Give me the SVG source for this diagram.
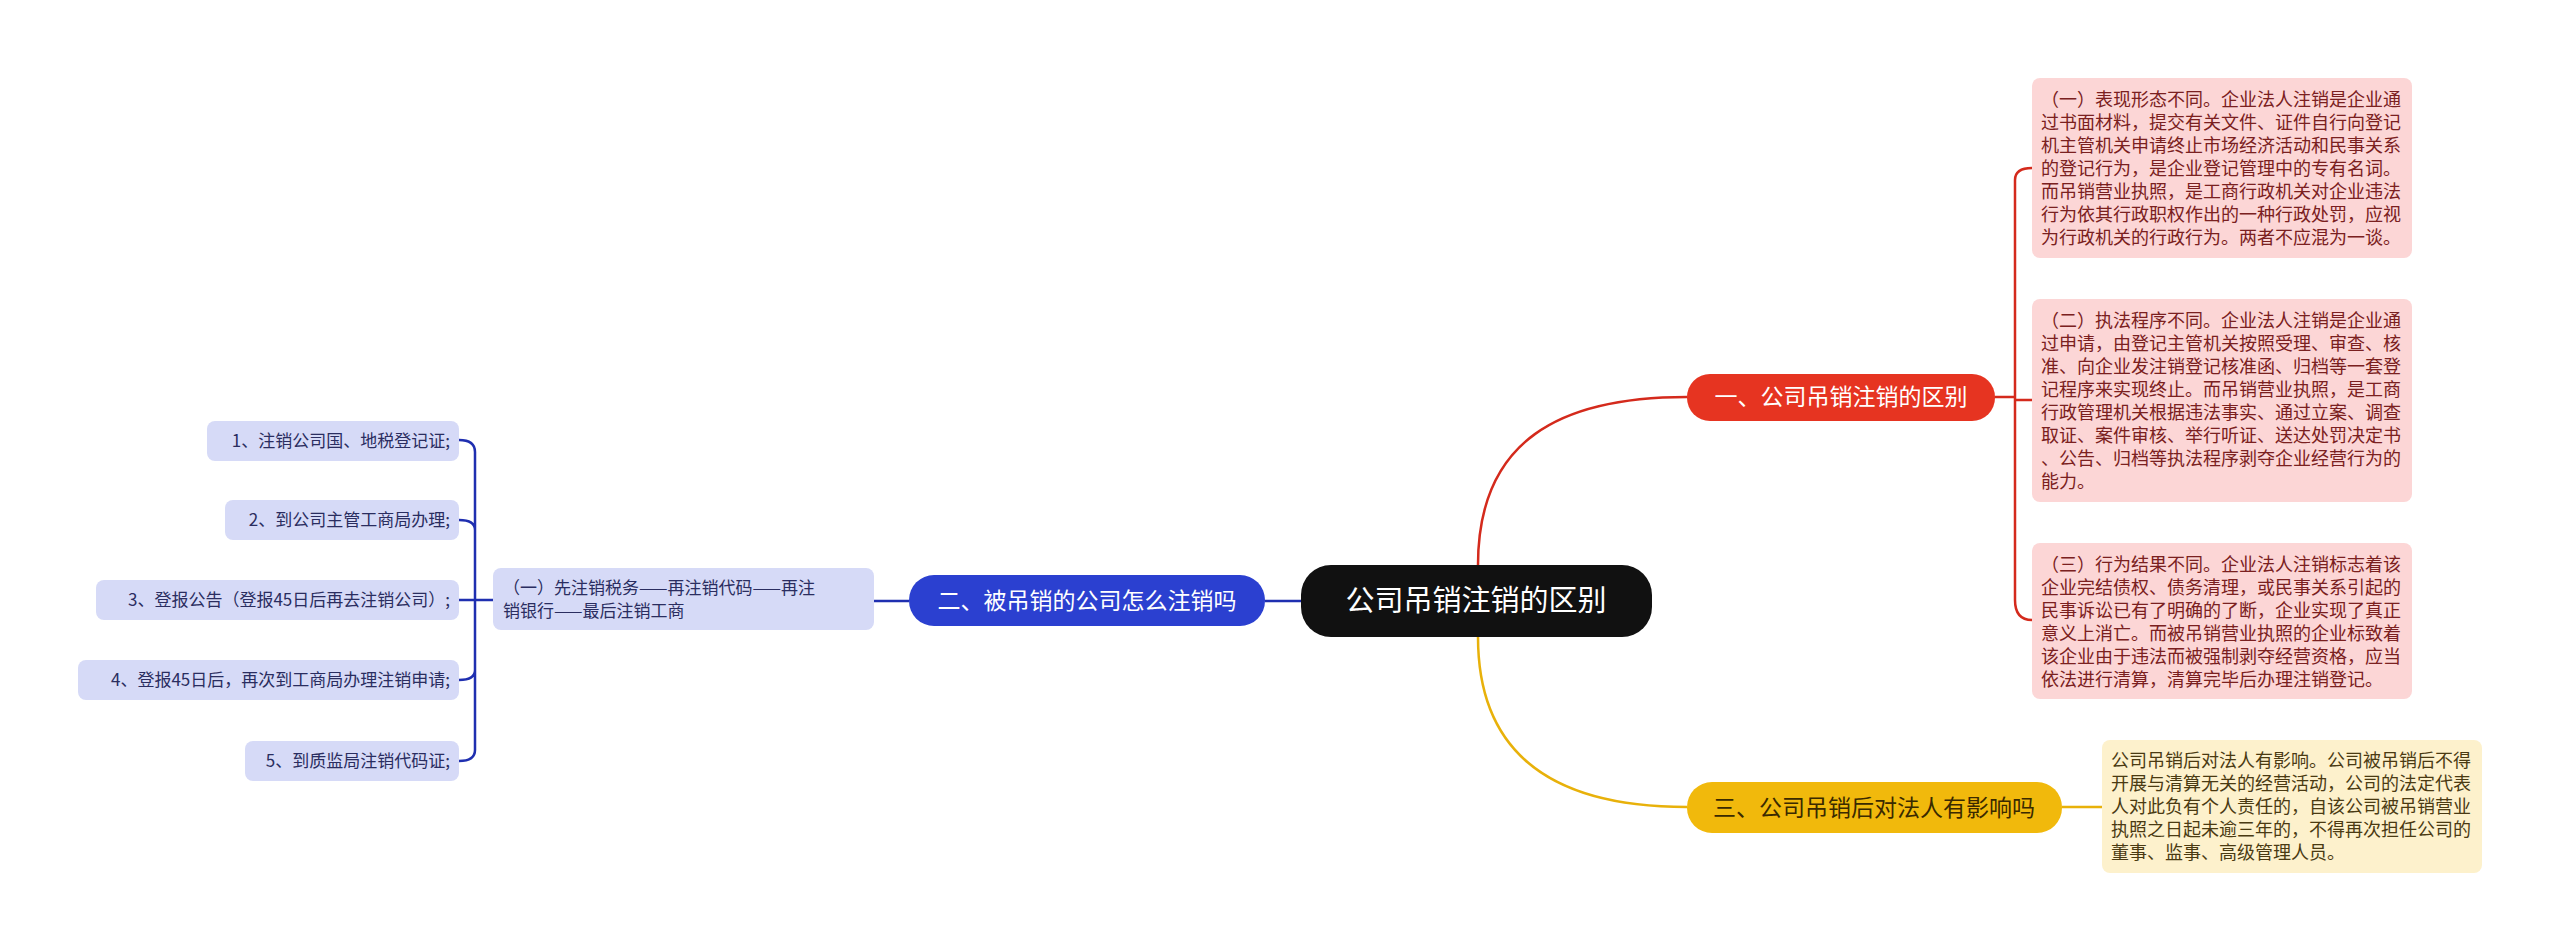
<svg xmlns="http://www.w3.org/2000/svg" width="2560" height="952" viewBox="0 0 2560 952">
<style>
text{font-family:"Noto Sans CJK SC","Liberation Sans",sans-serif}
.red{fill:#fcd6d6}.redt{fill:#7a2020;font-size:18px}
.blu{fill:#d6daf7}.blut{fill:#2a2d60;font-size:17px}
.yel{fill:#fdf1cc}.yelt{fill:#4a3a12;font-size:18px}
.c{fill:none;stroke-width:2.5}
</style>
<rect width="2560" height="952" fill="#fff"/>
<g id="connectors">
<path class="c" stroke="#d42a1c" d="M1478,565 C1478,440 1560,397 1687,397"/>
<path class="c" stroke="#d42a1c" d="M1995,397 H2015 M2015,180 V600 M2015,180 Q2015,168 2032,168 M2015,400 H2032 M2015,600 Q2015,620 2032,620"/>
<path class="c" stroke="#e8b10a" d="M1478,637 C1478,760 1560,807 1687,807"/>
<path class="c" stroke="#e8b10a" d="M2062,807 H2102"/>
<path class="c" stroke="#1f2fb0" d="M1301,601 H1265 M909,601 H874"/>
<path class="c" stroke="#1f2fb0" d="M493,600 H475 M475,452 V750 M459,440 Q475,440 475,452 M459,520 Q475,520 475,530 M459,600 H475 M459,680 Q475,680 475,670 M459,761 Q475,761 475,750"/>
</g>
<g id="center"><rect x="1301" y="565" width="351" height="72" rx="30" fill="#111"/><text x="1476" y="611" font-size="29" fill="#fff" text-anchor="middle">公司吊销注销的区别</text></g>
<g id="b1"><rect x="1687" y="374" width="308" height="47" rx="23" fill="#e63421"/><text x="1841" y="405" font-size="23" fill="#fff" text-anchor="middle">一、公司吊销注销的区别</text></g>
<g id="b2"><rect x="909" y="575" width="356" height="51" rx="25" fill="#2b40d0"/><text x="1087" y="609" font-size="23" fill="#fff" text-anchor="middle">二、被吊销的公司怎么注销吗</text></g>
<g id="b3"><rect x="1687" y="782" width="375" height="51" rx="25" fill="#f1b90c"/><text x="1874" y="816" font-size="23" fill="#3a2a00" text-anchor="middle">三、公司吊销后对法人有影响吗</text></g>
<g id="r1"><rect class="red" x="2032" y="78" width="380" height="180" rx="8"/>
<text class="redt"><tspan x="2041" y="106">（一）表现形态不同。企业法人注销是企业通</tspan><tspan x="2041" y="129">过书面材料，提交有关文件、证件自行向登记</tspan><tspan x="2041" y="152">机主管机关申请终止市场经济活动和民事关系</tspan><tspan x="2041" y="175">的登记行为，是企业登记管理中的专有名词。</tspan><tspan x="2041" y="198">而吊销营业执照，是工商行政机关对企业违法</tspan><tspan x="2041" y="221">行为依其行政职权作出的一种行政处罚，应视</tspan><tspan x="2041" y="244">为行政机关的行政行为。两者不应混为一谈。</tspan></text></g>
<g id="r2"><rect class="red" x="2032" y="299" width="380" height="203" rx="8"/>
<text class="redt"><tspan x="2041" y="327">（二）执法程序不同。企业法人注销是企业通</tspan><tspan x="2041" y="350">过申请，由登记主管机关按照受理、审查、核</tspan><tspan x="2041" y="373">准、向企业发注销登记核准函、归档等一套登</tspan><tspan x="2041" y="396">记程序来实现终止。而吊销营业执照，是工商</tspan><tspan x="2041" y="419">行政管理机关根据违法事实、通过立案、调查</tspan><tspan x="2041" y="442">取证、案件审核、举行听证、送达处罚决定书</tspan><tspan x="2041" y="465">、公告、归档等执法程序剥夺企业经营行为的</tspan><tspan x="2041" y="488">能力。</tspan></text></g>
<g id="r3"><rect class="red" x="2032" y="543" width="380" height="156" rx="8"/>
<text class="redt"><tspan x="2041" y="571">（三）行为结果不同。企业法人注销标志着该</tspan><tspan x="2041" y="594">企业完结债权、债务清理，或民事关系引起的</tspan><tspan x="2041" y="617">民事诉讼已有了明确的了断，企业实现了真正</tspan><tspan x="2041" y="640">意义上消亡。而被吊销营业执照的企业标致着</tspan><tspan x="2041" y="663">该企业由于违法而被强制剥夺经营资格，应当</tspan><tspan x="2041" y="686">依法进行清算，清算完毕后办理注销登记。</tspan></text></g>
<g id="y1"><rect class="yel" x="2102" y="740" width="380" height="133" rx="8"/>
<text class="yelt"><tspan x="2111" y="767">公司吊销后对法人有影响。公司被吊销后不得</tspan><tspan x="2111" y="790">开展与清算无关的经营活动，公司的法定代表</tspan><tspan x="2111" y="813">人对此负有个人责任的，自该公司被吊销营业</tspan><tspan x="2111" y="836">执照之日起未逾三年的，不得再次担任公司的</tspan><tspan x="2111" y="859">董事、监事、高级管理人员。</tspan></text></g>
<g id="m1"><rect class="blu" x="493" y="568" width="381" height="62" rx="8"/>
<text class="blut"><tspan x="503" y="594">（一）先注销税务——再注销代码——再注</tspan><tspan x="503" y="617">销银行——最后注销工商</tspan></text></g>
<g id="l1"><rect class="blu" x="207" y="421" width="252" height="40" rx="8"/><text class="blut" x="450" y="447" text-anchor="end">1、注销公司国、地税登记证;</text></g>
<g id="l2"><rect class="blu" x="225" y="500" width="234" height="40" rx="8"/><text class="blut" x="450" y="526" text-anchor="end">2、到公司主管工商局办理;</text></g>
<g id="l3"><rect class="blu" x="96" y="580" width="363" height="40" rx="8"/><text class="blut" x="450" y="606" text-anchor="end">3、登报公告（登报45日后再去注销公司）;</text></g>
<g id="l4"><rect class="blu" x="78" y="660" width="381" height="40" rx="8"/><text class="blut" x="450" y="686" text-anchor="end">4、登报45日后，再次到工商局办理注销申请;</text></g>
<g id="l5"><rect class="blu" x="245" y="741" width="214" height="40" rx="8"/><text class="blut" x="450" y="767" text-anchor="end">5、到质监局注销代码证;</text></g>
</svg>
